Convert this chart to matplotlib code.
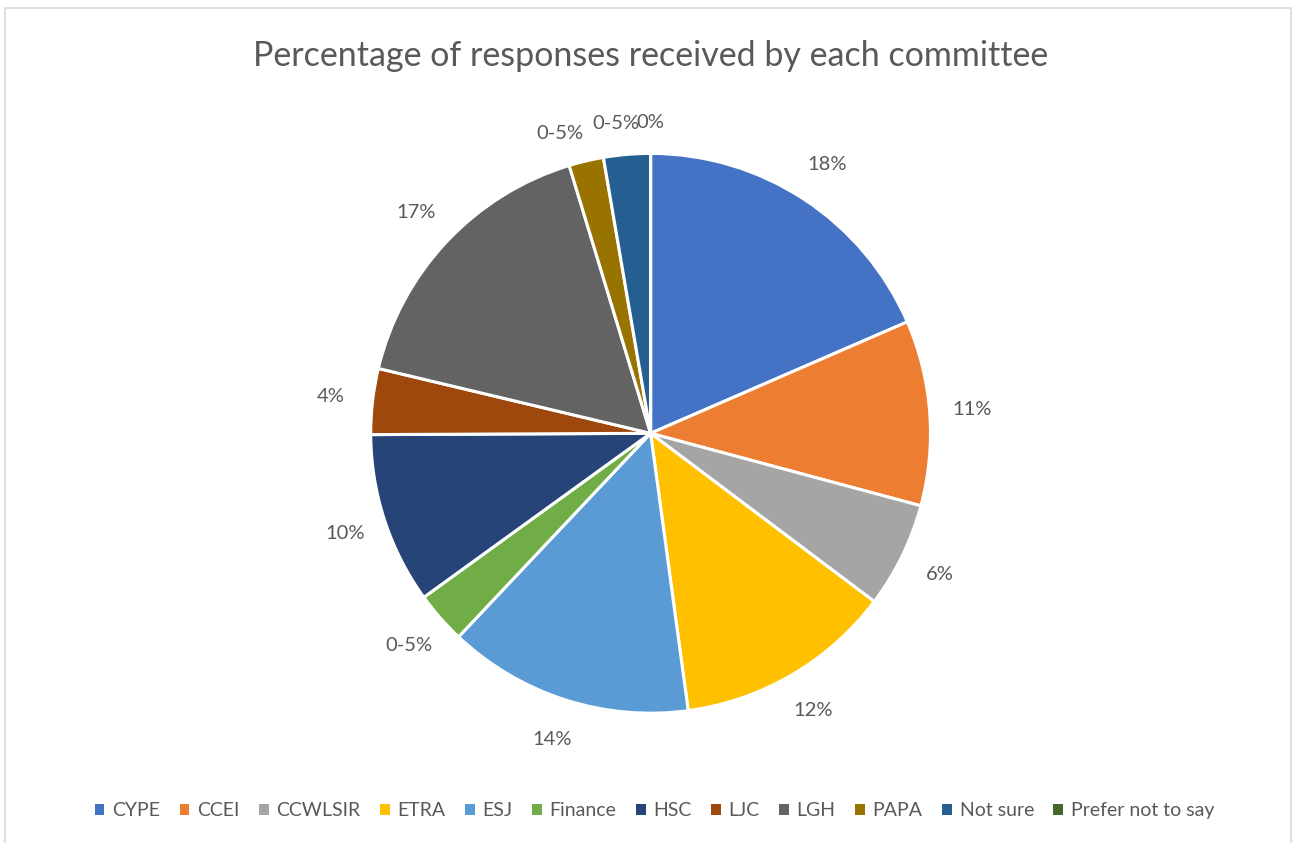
import numpy as np
import matplotlib.pyplot as plt
from matplotlib.patches import Rectangle

committees = ['CYPE', 'CCEI', 'CCWLSIR', 'ETRA', 'ESJ', 'Finance', 'HSC',
              'LJC', 'LGH', 'PAPA', 'Not sure', 'Prefer not to say']
shares = [18.5, 10.7, 6.1, 12.6, 14.2, 3.0, 9.9, 3.8, 16.6, 2.0, 2.7, 0.0]
pct_labels = ['18%', '11%', '6%', '12%', '14%', '0-5%', '10%', '4%', '17%',
              '0-5%', '0-5%', '0%']
colors = ['#4472C4', '#ED7D31', '#A5A5A5', '#FFC000', '#5B9BD5', '#70AD47',
          '#264478', '#9E480E', '#636363', '#997300', '#255E91', '#43682B']

plt.rcParams['font.family'] = ['Lato', 'DejaVu Sans']
text_col = '#595959'

fig = plt.figure(figsize=(12.96, 8.43), dpi=100)
# light chart-area frame like the Excel export
fig.patches.append(Rectangle((0.004, -0.02), 0.992, 1.01, transform=fig.transFigure,
                             fill=False, edgecolor='#D9D9D9', linewidth=1.2))

fig.text(0.502, 0.934, 'Percentage of responses received by each committee',
         ha='center', va='center', fontsize=24.5, color=text_col)

ax = fig.add_axes([0.286, 0.154, 0.432, 0.664])
wedges, texts = ax.pie(shares, labels=pct_labels, colors=colors, startangle=90,
                       counterclock=False, labeldistance=1.15,
                       wedgeprops=dict(edgecolor='white', linewidth=2.2),
                       textprops=dict(fontsize=14.5, color=text_col))
for t in texts:
    t.set_ha('center')
    t.set_va('center')

# small slices at the top: labels sit a bit lower, like Excel's best fit
for i, dist in [(9, 1.10), (10, 1.11), (11, 1.11)]:
    w = wedges[i]
    mid = np.deg2rad((w.theta1 + w.theta2) / 2)
    texts[i].set_position((dist * np.cos(mid), dist * np.sin(mid)))
texts[9].set_x(texts[9].get_position()[0] - 0.07)
texts[10].set_x(texts[10].get_position()[0] - 0.03)
ax.set_xlim(-1, 1)
ax.set_ylim(-1, 1)
ax.set_aspect('equal')

handles = [Rectangle((0, 0), 1, 1, facecolor=c) for c in colors]
fig.legend(handles, committees, loc='center', bbox_to_anchor=(0.505, 0.038),
           ncol=len(committees), frameon=False, fontsize=14,
           labelcolor=text_col, handlelength=0.5, handleheight=0.5,
           handletextpad=0.4, columnspacing=1.0)

fig.savefig('out.png', dpi=100)
